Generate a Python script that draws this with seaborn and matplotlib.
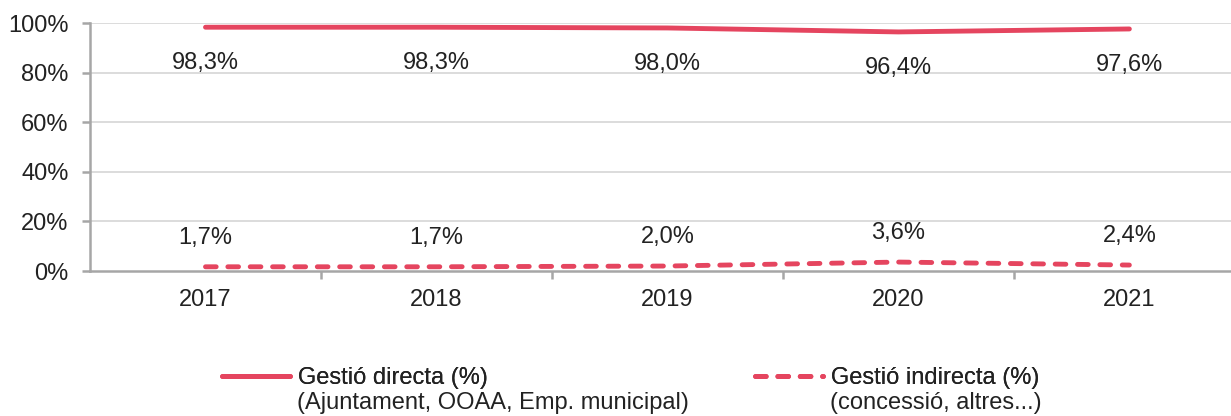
import matplotlib
matplotlib.use("Agg")
import matplotlib.pyplot as plt
from matplotlib.lines import Line2D
import seaborn as sns
import pandas as pd

years = ["2017", "2018", "2019", "2020", "2021"]
directa = [98.3, 98.3, 98.0, 96.4, 97.6]
indirecta = [1.7, 1.7, 2.0, 3.6, 2.4]
labels_directa = ["98,3%", "98,3%", "98,0%", "96,4%", "97,6%"]
labels_indirecta = ["1,7%", "1,7%", "2,0%", "3,6%", "2,4%"]
legend_first = ["Gestió directa (%)", "Gestió indirecta (%)"]
legend_second = ["(Ajuntament, OOAA, Emp. municipal)", "(concessió, altres...)"]
yticks = [0, 20, 40, 60, 80, 100]

RED = "#E5455F"
GRID = "#D9D9D9"
AXIS = "#A6A6A6"
TXT = "#222222"
FS = 17
LW = 3.5
DASH = (2.2, 2.4)

sns.set_theme(style="white")
plt.rcParams["font.family"] = ["Liberation Sans", "DejaVu Sans"]

df = pd.DataFrame({
    "x": list(range(len(years))) * 2,
    "value": directa + indirecta,
    "serie": [legend_first[0]] * len(years) + [legend_first[1]] * len(years),
})

fig = plt.figure(figsize=(12.31, 4.16), dpi=100)
ax = fig.add_axes([90 / 1231, 1 - 271 / 416, 1 - 90 / 1231, 248 / 416])

sns.lineplot(data=df, x="x", y="value", hue="serie", style="serie",
             palette=[RED, RED], dashes=[(None, None), DASH],
             linewidth=LW, ax=ax, legend=False, zorder=3)
for ln in ax.lines:
    ln.set_solid_capstyle("round")
    ln.set_dash_capstyle("round")

ax.set_xlim(-0.5, 4.44)
ax.set_ylim(0, 100)
ax.set_yticks(yticks)
ax.set_yticklabels([f"{v}%" for v in yticks])
ax.set_xticks(range(len(years)))
ax.set_xticklabels(years)
ax.set_xlabel("")
ax.set_ylabel("")

# horizontal gridlines
for v in yticks[1:]:
    ax.axhline(v, color=GRID, lw=1.3, zorder=0)

for s in ["top", "right"]:
    ax.spines[s].set_visible(False)
for s in ["left", "bottom"]:
    ax.spines[s].set_color(AXIS)
    ax.spines[s].set_linewidth(1.8)
ax.spines["bottom"].set_zorder(1)

# category boundary ticks on the x axis
ax.set_xticks([i + 0.5 for i in range(len(years) - 1)], minor=True)
ax.tick_params(axis="x", which="major", bottom=False, length=0, pad=13, labelsize=FS,
               labelcolor=TXT)
ax.tick_params(axis="x", which="minor", bottom=True, length=6, width=1.8, color=AXIS,
               direction="out")
ax.tick_params(axis="y", left=True, length=5.5, width=1.8, color=AXIS, direction="out",
               pad=10, labelsize=FS, labelcolor=TXT)

# value labels
for i in range(len(years)):
    ax.annotate(labels_directa[i], (i, directa[i]), xytext=(0, -26), textcoords="offset points",
                ha="center", va="center", fontsize=FS, color=TXT)
    ax.annotate(labels_indirecta[i], (i, indirecta[i]), xytext=(0, 21), textcoords="offset points",
                ha="center", va="center", fontsize=FS, color=TXT)

# legend: one entry per series, second line of text below
handles = [Line2D([], [], color=RED, lw=LW, solid_capstyle="round"),
           Line2D([], [], color=RED, lw=LW, ls=(0, DASH), dash_capstyle="round")]
xs_handle = [222, 755]
for k in range(2):
    leg = fig.legend([handles[k]], [legend_first[k]], loc="center left",
                     bbox_to_anchor=(xs_handle[k] / 1231, 1 - 378 / 416),
                     frameon=False, fontsize=FS, handlelength=2.9, handletextpad=0.3,
                     borderaxespad=0, borderpad=0)
    fig.add_artist(leg)
    for t in leg.get_texts():
        t.set_color(TXT)
    xs_text = (xs_handle[k] + 75) / 1231
    fig.text(xs_text, 1 - 403 / 416, legend_second[k], ha="left", va="center",
             fontsize=FS, color=TXT)

fig.savefig("out.png", dpi=100)
